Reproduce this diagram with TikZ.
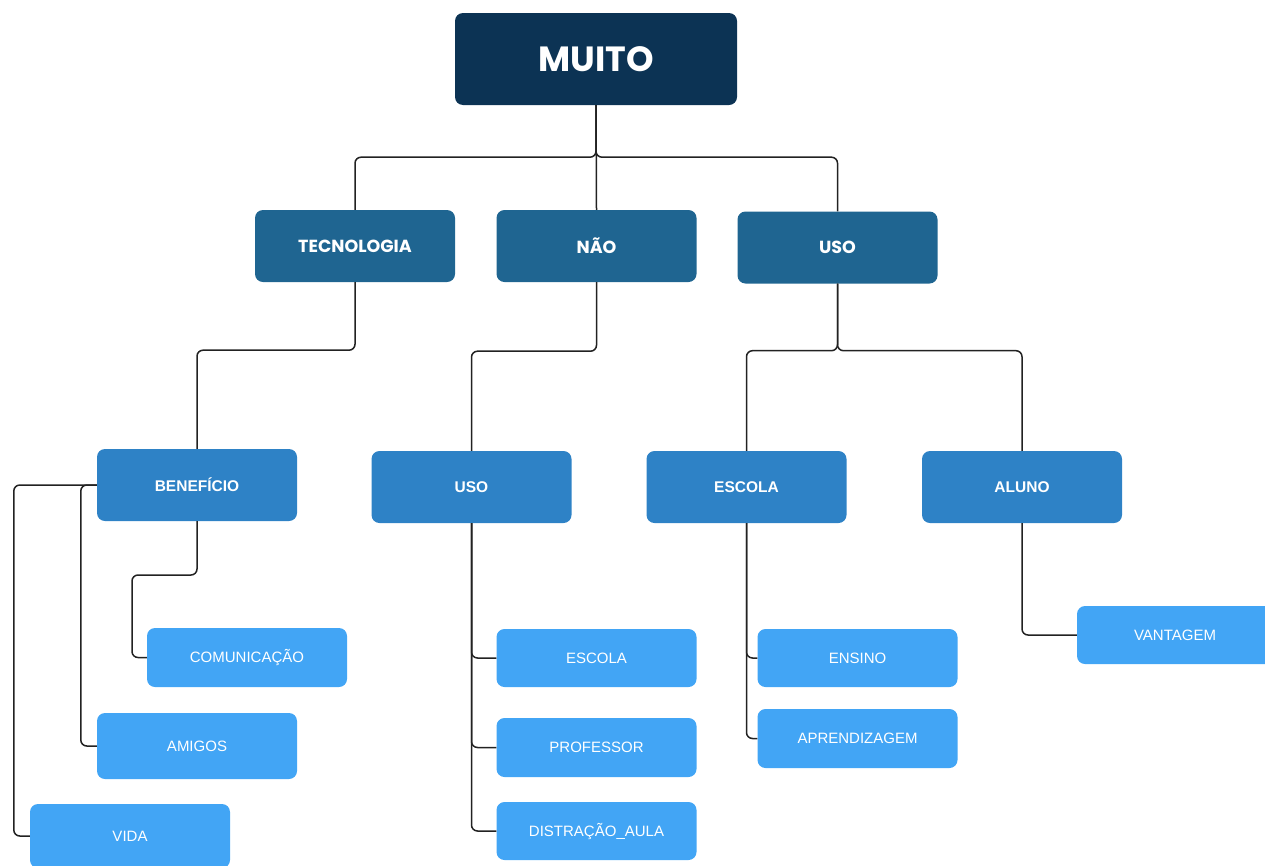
\documentclass[tikz,border=0pt]{standalone}
\usepackage{fontspec}
\setmainfont{Liberation Sans}
\newfontfamily\pop{Poppins}
\definecolor{cTop}{HTML}{0C3354}
\definecolor{cLvl1}{HTML}{1F6591}
\definecolor{cLvl2}{HTML}{2E82C6}
\definecolor{cLeaf}{HTML}{42A5F5}
\definecolor{cLine}{HTML}{222222}
\tikzset{
  box/.style={rounded corners=8pt, inner sep=0pt, text=white, align=center},
  topbox/.style={box, fill=cTop, minimum width=282pt, minimum height=92pt, font=\pop\bfseries\fontsize{35}{38}\selectfont},
  lvlone/.style={box, fill=cLvl1, minimum width=200pt, minimum height=72pt, font=\pop\bfseries\fontsize{17.5}{20}\selectfont},
  lvltwo/.style={box, fill=cLvl2, minimum width=200pt, minimum height=72pt, font=\bfseries\fontsize{15.5}{18}\selectfont},
  leaf/.style={box, fill=cLeaf, minimum width=200pt, minimum height=59pt, font=\fontsize{15}{18}\selectfont},
  conn/.style={draw=cLine, line width=1.5pt, rounded corners=6pt}
}
\begin{document}
\begin{tikzpicture}[x=1pt,y=-1pt]
\useasboundingbox (0,0) rectangle (1265,865);
% nodes
\node[topbox] (muito) at (596,59) {MUITO};
\node[lvlone] (tec) at (355,246) {TECNOLOGIA};
\node[lvlone] (nao) at (596.5,246) {NÃO};
\node[lvlone] (usoa) at (837.5,247.5) {USO};
\node[lvltwo] (ben) at (197,485) {BENEFÍCIO};
\node[lvltwo] (usob) at (471.5,487) {USO};
\node[lvltwo] (esca) at (746.5,487) {ESCOLA};
\node[lvltwo] (aluno) at (1022,487) {ALUNO};
\node[leaf] (com) at (247,657.5) {COMUNICAÇÃO};
\node[leaf, minimum height=66pt] (ami) at (197,746) {AMIGOS};
\node[leaf, minimum height=64pt] (vida) at (130,836) {VIDA};
\node[leaf, minimum height=58pt] (escb) at (596.5,658) {ESCOLA};
\node[leaf] (prof) at (596.5,747.5) {PROFESSOR};
\node[leaf, minimum height=58pt] (dist) at (596.5,831) {DISTRAÇÃO\_AULA};
\node[leaf, minimum height=58pt] (ens) at (857.5,658) {ENSINO};
\node[leaf] (apr) at (857.5,738.5) {APRENDIZAGEM};
\node[leaf, minimum height=58pt, minimum width=196pt] (vant) at (1175,635) {VANTAGEM};
% connectors
\coordinate (k1) at (132,575);
\draw[conn] (muito.south) -- ++(0,52) -| (tec.north);
\draw[conn] (muito.south) -- ++(0,52) -| (usoa.north);
\draw[conn] (muito.south) -- (nao.north);
\draw[conn] (tec.south) -- ++(0,68) -| (ben.north);
\draw[conn] (nao.south) -- ++(0,69) -| (usob.north);
\draw[conn] (usoa.south) -- ++(0,67) -| (esca.north);
\draw[conn] (usoa.south) -- ++(0,67) -| (aluno.north);
\draw[conn] (ben.south) |- (k1) |- (com.west);
\draw[conn] (ben.west) -- ++(-16,0) |- (ami.west);
\draw[conn] (ben.west) -- ++(-83,0) |- (vida.west);
\draw[conn] (usob.south) |- (escb.west);
\draw[conn] (usob.south) |- (prof.west);
\draw[conn] (usob.south) |- (dist.west);
\draw[conn] (esca.south) |- (ens.west);
\draw[conn] (esca.south) |- (apr.west);
\draw[conn] (aluno.south) |- (vant.west);
\end{tikzpicture}
\end{document}
